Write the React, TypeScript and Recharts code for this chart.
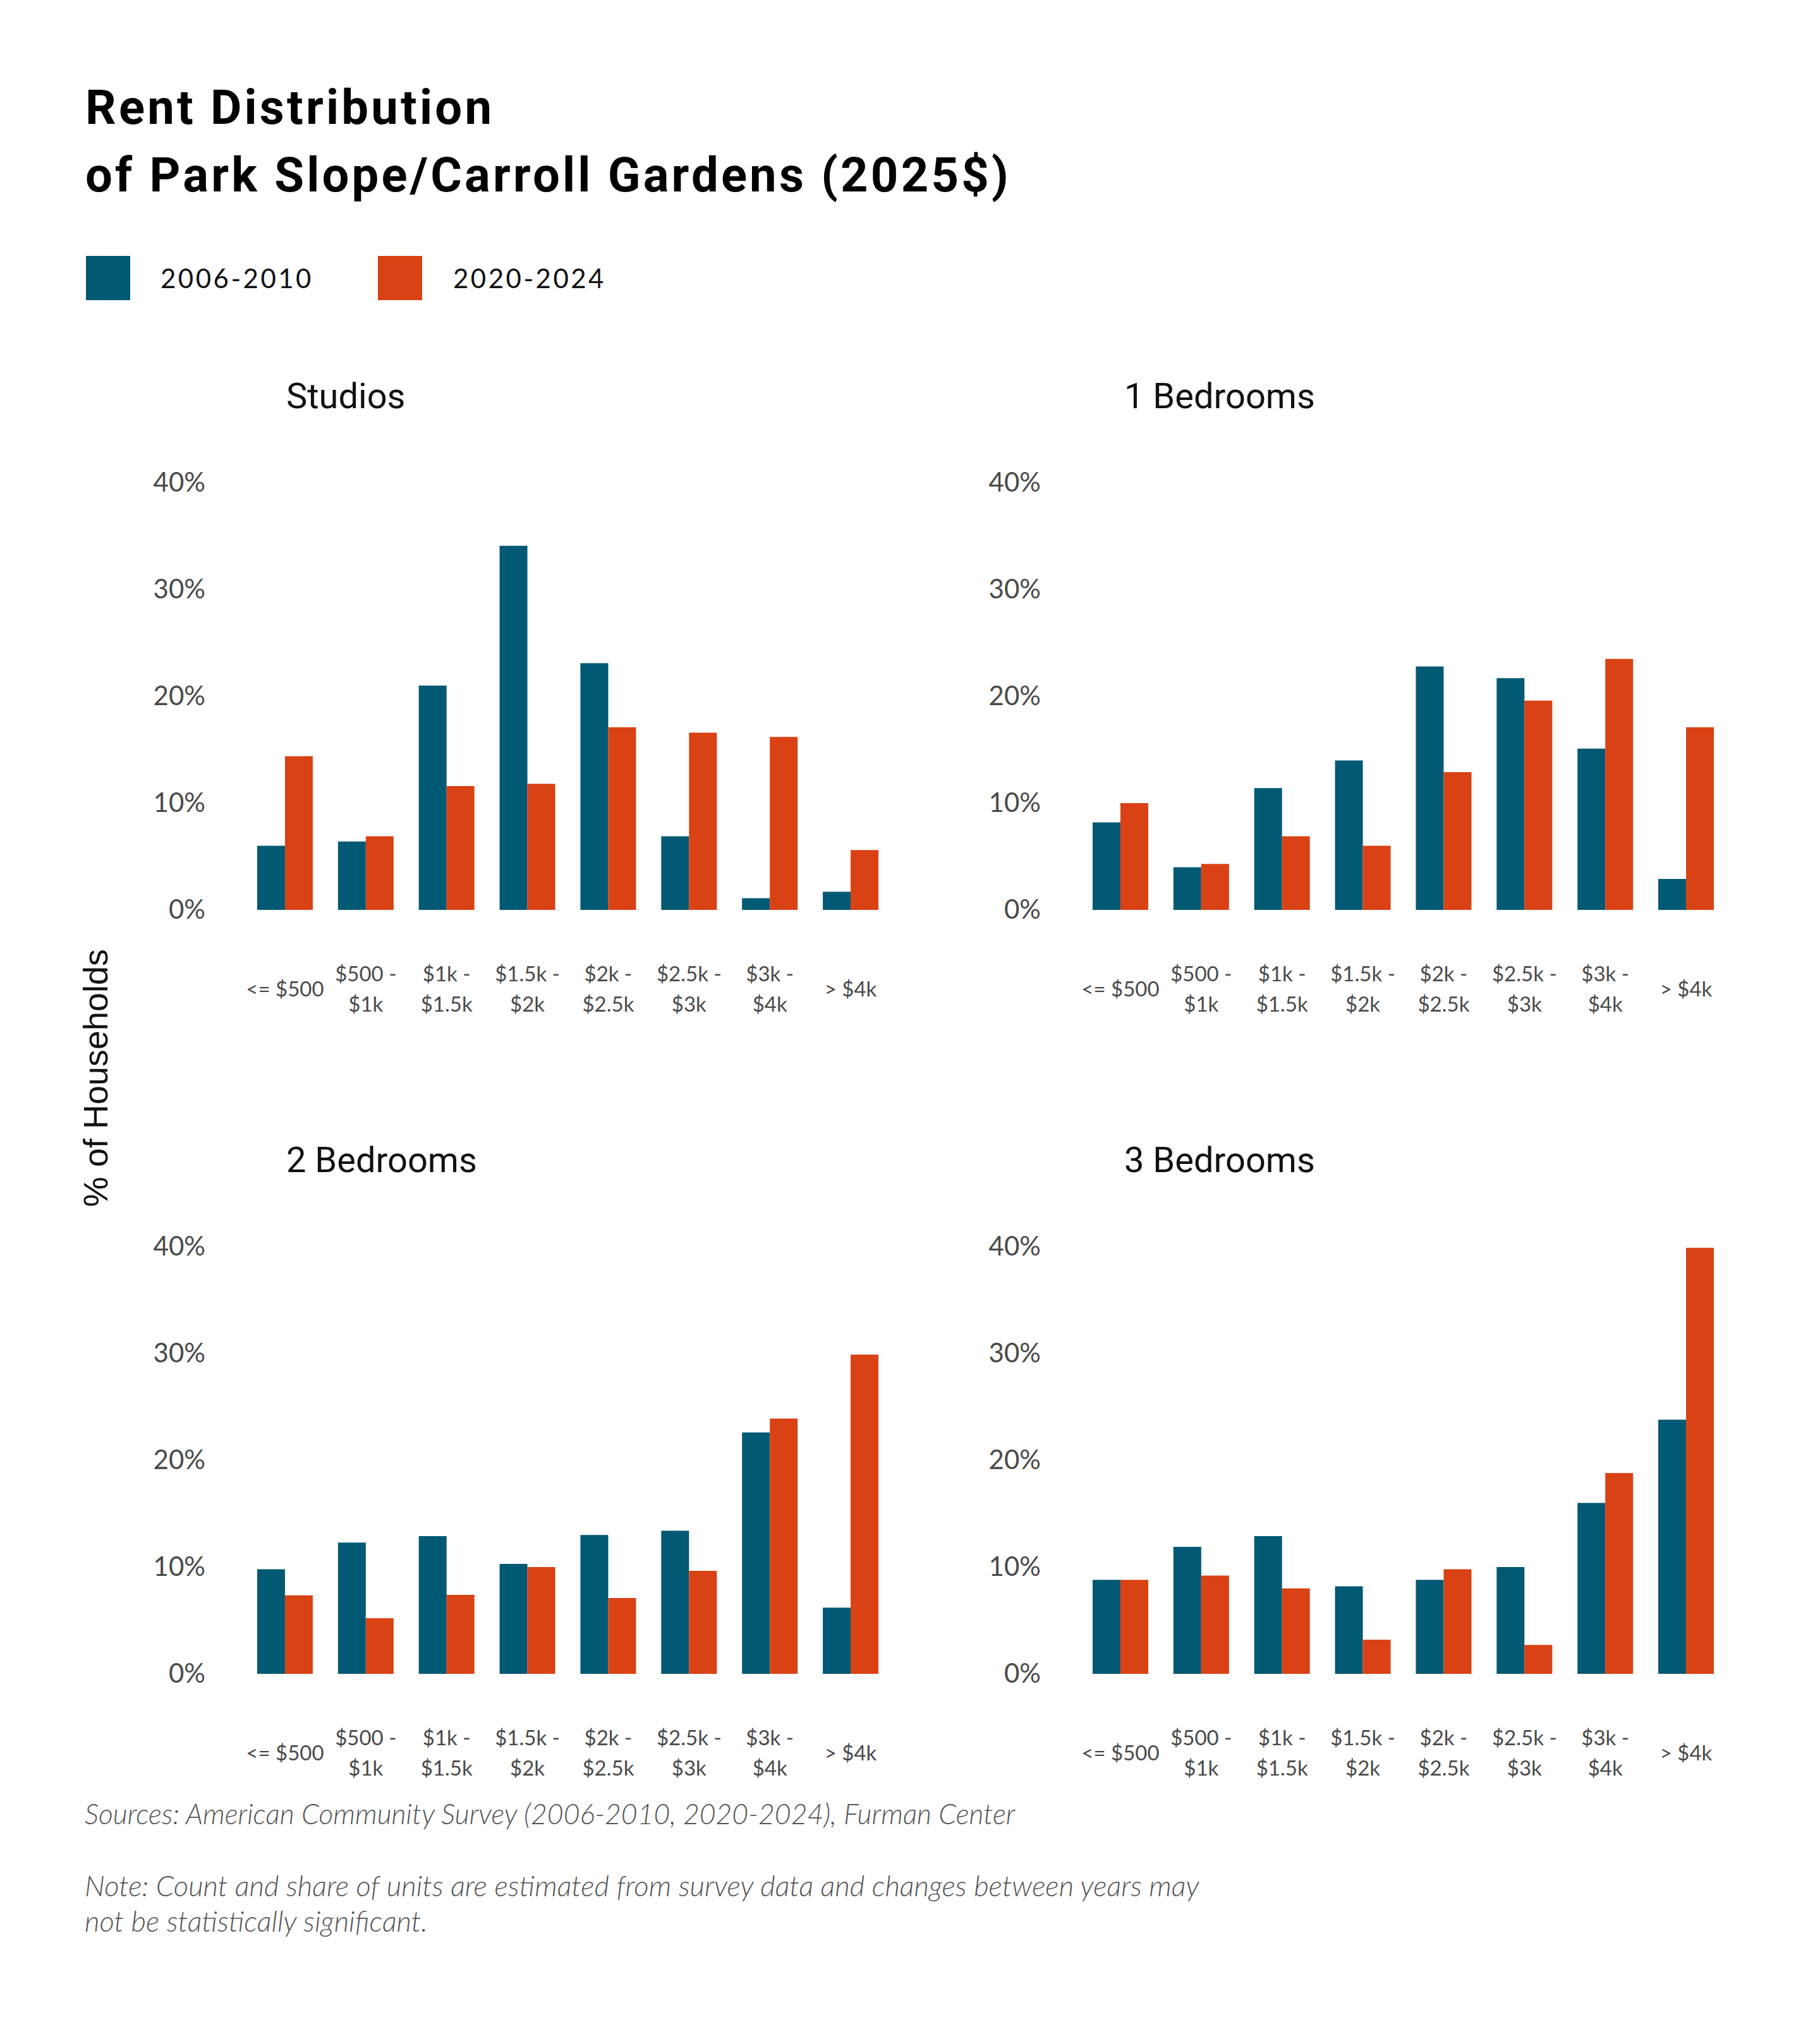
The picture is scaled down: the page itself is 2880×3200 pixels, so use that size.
import React from "react";
import { Bar, BarChart, XAxis, YAxis } from "recharts";

const categories = [
  "<= $500",
  "$500 -\n$1k",
  "$1k -\n$1.5k",
  "$1.5k -\n$2k",
  "$2k -\n$2.5k",
  "$2.5k -\n$3k",
  "$3k -\n$4k",
  "> $4k",
];

const studios2006 = [6.0, 6.4, 21.0, 34.1, 23.1, 6.9, 1.1, 1.7];
const studios2020 = [14.4, 6.9, 11.6, 11.8, 17.1, 16.6, 16.2, 5.6];
const oneBed2006 = [8.2, 4.0, 11.4, 14.0, 22.8, 21.7, 15.1, 2.9];
const oneBed2020 = [10.0, 4.3, 6.9, 6.0, 12.9, 19.6, 23.5, 17.1];
const twoBed2006 = [9.8, 12.3, 12.9, 10.3, 13.0, 13.4, 22.6, 6.2];
const twoBed2020 = [7.35, 5.2, 7.4, 10.0, 7.1, 9.65, 23.9, 29.9];
const threeBed2006 = [8.8, 11.9, 12.9, 8.2, 8.8, 10.0, 16.0, 23.8];
const threeBed2020 = [8.8, 9.2, 8.0, 3.2, 9.8, 2.7, 18.8, 39.9];

const yTicks = [0, 10, 20, 30, 40];
const seriesNames = ["2006-2010", "2020-2024"];

const BLUE = "#025973";
const RED = "#D84214";
const TICK_FONT = "Lato, 'Open Sans', sans-serif";

function rows(a: number[], b: number[]) {
  return categories.map((label, i) => ({ label, early: a[i], late: b[i] }));
}

function CategoryTick(props: any) {
  const { x, y, payload } = props;
  const lines = String(payload.value).split("\n");
  const offsets = lines.length === 1 ? [124] : [100, 148];
  return (
    <g>
      {lines.map((line, i) => (
        <text
          key={i}
          x={x}
          y={y + offsets[i]}
          textAnchor="middle"
          dominantBaseline="central"
          fontFamily={TICK_FONT}
          fontSize={33}
          fill="#4a4a4a"
        >
          {line}
        </text>
      ))}
    </g>
  );
}

function Panel({ left, top, data }: { left: number; top: number; data: any[] }) {
  return (
    <div style={{ position: "absolute", left, top }}>
      <BarChart
        width={1233}
        height={916}
        data={data}
        margin={{ top: 40, right: 10, bottom: 0, left: 0 }}
        barCategoryGap="15.6%"
        barGap={0}
      >
        <XAxis
          dataKey="label"
          axisLine={false}
          tickLine={false}
          tickSize={0}
          tickMargin={0}
          interval={0}
          height={200}
          tick={<CategoryTick />}
        />
        <YAxis
          width={200}
          domain={[0, 40]}
          ticks={yTicks}
          axisLine={false}
          tickLine={false}
          tickSize={0}
          tickMargin={62}
          tickFormatter={(v: number) => `${v}%`}
          tick={{ fontFamily: TICK_FONT, fontSize: 42, fill: "#4a4a4a", dy: -1 }}
        />
        <Bar dataKey="early" name={seriesNames[0]} fill={BLUE} isAnimationActive={false} />
        <Bar dataKey="late" name={seriesNames[1]} fill={RED} isAnimationActive={false} />
      </BarChart>
    </div>
  );
}

export default function App() {
  const titleFont = "Roboto, 'Noto Sans', sans-serif";
  const footFont = TICK_FONT;
  return (
    <div
      style={{
        position: "absolute",
        left: 0,
        top: 0,
        width: 2880,
        height: 3200,
        background: "#ffffff",
        overflow: "hidden",
      }}
    >
      <svg width={2880} height={3200} style={{ position: "absolute", left: 0, top: 0 }}>
        <text x={135} y={196} fontFamily={titleFont} fontWeight={700} fontSize={76} letterSpacing={4.2} fill="#000">
          Rent Distribution
        </text>
        <text x={135} y={303} fontFamily={titleFont} fontWeight={700} fontSize={76} letterSpacing={4.2} fill="#000">
          of Park Slope/Carroll Gardens (2025$)
        </text>

        <rect x={136} y={405} width={70} height={70} fill={BLUE} />
        <text x={254} y={456} fontFamily={TICK_FONT} fontSize={42} letterSpacing={3.5} fill="#111">
          {seriesNames[0]}
        </text>
        <rect x={598} y={405} width={70} height={70} fill={RED} />
        <text x={717} y={456} fontFamily={TICK_FONT} fontSize={42} letterSpacing={3.5} fill="#111">
          {seriesNames[1]}
        </text>

        <text x={453} y={646} fontFamily={titleFont} fontSize={56} fill="#111">Studios</text>
        <text x={1779} y={646} fontFamily={titleFont} fontSize={56} fill="#111">1 Bedrooms</text>
        <text x={453} y={1855} fontFamily={titleFont} fontSize={56} fill="#111">2 Bedrooms</text>
        <text x={1779} y={1855} fontFamily={titleFont} fontSize={56} fill="#111">3 Bedrooms</text>

        <text
          x={0}
          y={0}
          transform="translate(151 1706) rotate(-90)"
          textAnchor="middle"
          dominantBaseline="central"
          fontFamily="'Liberation Sans', Arial, sans-serif"
          fontSize={54}
          fill="#111"
        >
          % of Households
        </text>

        <text x={134} y={2887} fontFamily={footFont} fontStyle="italic" fontWeight={300} fontSize={44.5} fill="#555">
          Sources: American Community Survey (2006-2010, 2020-2024), Furman Center
        </text>
        <text x={134} y={3001} fontFamily={footFont} fontStyle="italic" fontWeight={300} fontSize={45.5} fill="#555">
          Note: Count and share of units are estimated from survey data and changes between years may
        </text>
        <text x={134} y={3057} fontFamily={footFont} fontStyle="italic" fontWeight={300} fontSize={45.5} fill="#555">
          not be statistically significant.
        </text>
      </svg>

      <Panel left={187} top={724} data={rows(studios2006, studios2020)} />
      <Panel left={1509} top={724} data={rows(oneBed2006, oneBed2020)} />
      <Panel left={187} top={1933} data={rows(twoBed2006, twoBed2020)} />
      <Panel left={1509} top={1933} data={rows(threeBed2006, threeBed2020)} />
    </div>
  );
}
